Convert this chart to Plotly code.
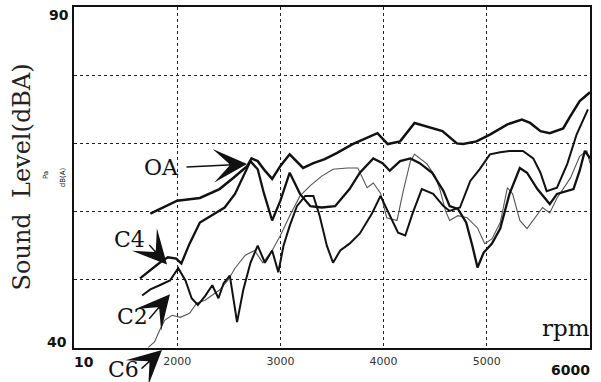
import plotly.graph_objects as go

# ---- data (rpm, dB(A)) ----
oa_rpm = [1740,2000,2220,2410,2540,2680,2720,2780,2850,2920,3000,3090,3220,3320,3430,3550,3700,3870,3940,4040,4160,4300,4420,4570,4710,4770,4900,5030,5200,5340,5420,5520,5610,5740,5810,5900,6000]
oa_db = [59.7,61.6,62.0,63.3,64.9,66.7,67.8,67.4,66.0,64.8,66.7,68.4,66.4,67.1,67.7,68.6,69.9,71.1,71.5,69.9,70.3,73.0,72.5,71.8,70.0,69.9,70.3,71.3,72.8,73.5,73.0,71.8,71.5,72.2,74.0,76.2,77.5]

c4_rpm = [1640,1740,1830,1910,1990,2040,2120,2220,2340,2460,2560,2640,2710,2780,2840,2920,3000,3090,3190,3290,3400,3530,3670,3770,3900,3990,4060,4160,4260,4350,4470,4580,4640,4720,4800,4860,4910,4970,5050,5130,5220,5320,5390,5490,5610,5680,5760,5840,5900,5950,6000]
c4_db = [50.2,51.4,52.5,53.3,53.1,52.4,55.3,58.4,59.5,60.6,62.6,65.2,67.4,66.2,62.7,58.7,61.6,65.7,62.6,60.8,60.6,60.8,63.3,65.7,67.8,67.1,66.0,67.4,67.8,67.1,65.7,63.0,60.8,60.4,58.4,55.0,51.8,54.0,55.3,57.5,62.6,66.4,65.7,63.3,61.1,62.6,63.0,63.3,66.0,68.9,67.8]

c2_rpm = [1660,1740,1830,1930,2010,2080,2140,2200,2270,2340,2400,2450,2510,2580,2640,2710,2780,2850,2920,2980,3030,3090,3160,3240,3320,3380,3450,3510,3580,3670,3770,3890,3970,4060,4140,4210,4280,4370,4480,4580,4640,4740,4840,4930,5030,5130,5220,5350,5450,5520,5580,5680,5780,5870,5980]
c2_db = [47.7,48.6,49.2,49.9,51.7,49.9,47.3,46.3,47.6,49.2,47.3,49.5,50.6,43.8,48.5,52.5,55.0,52.5,54.3,51.1,55.0,57.9,60.8,62.3,62.3,59.4,55.0,52.5,54.3,55.3,56.8,59.8,62.3,59.4,56.9,56.5,59.7,63.3,62.6,60.8,60.1,60.6,64.5,66.2,68.4,68.7,68.9,68.9,67.8,65.7,63.0,63.5,67.0,71.3,75.0]

c6_rpm = [1720,1780,1830,1880,1950,2030,2120,2190,2270,2340,2410,2490,2560,2660,2750,2830,2920,3000,3090,3190,3290,3400,3510,3650,3750,3840,3900,3970,4030,4130,4190,4260,4300,4420,4500,4550,4600,4640,4720,4810,4910,4980,5050,5130,5200,5250,5320,5390,5450,5540,5610,5680,5810,5900,5970,6000]
c6_db = [40.1,40.9,42.6,44.1,44.8,44.5,45.1,46.6,47.0,47.7,48.5,49.9,51.7,53.6,54.3,52.5,54.3,56.5,59.4,62.3,63.8,65.2,66.2,66.4,66.4,63.5,64.2,62.7,59.1,58.7,63.0,67.4,68.4,67.0,65.2,63.0,60.1,58.7,59.4,59.1,57.6,55.3,56.0,58.4,63.5,62.6,58.7,57.5,58.7,60.6,59.8,62.0,64.9,68.1,68.9,67.1]

x_ticks = [2000, 3000, 4000, 5000]
x_tick_text = ["2000", "3000", "4000", "5000"]

fig = go.Figure()
series = [
    ("C6", c6_rpm, c6_db, 1.1, "#555555"),
    ("C2", c2_rpm, c2_db, 2.0, "#111111"),
    ("C4", c4_rpm, c4_db, 2.3, "#111111"),
    ("OA", oa_rpm, oa_db, 2.5, "#111111"),
]
for name, xs, ys, w, col in series:
    fig.add_trace(go.Scatter(x=xs, y=ys, mode="lines", name=name,
                             line=dict(color=col, width=w),
                             showlegend=False, cliponaxis=False))

fig.update_layout(
    width=601, height=382,
    margin=dict(l=74, r=11, t=5, b=34),
    paper_bgcolor="white", plot_bgcolor="white",
    font=dict(family="DejaVu Sans", color="#222"),
)
fig.update_xaxes(range=[1000, 6000], tickvals=x_ticks, ticktext=x_tick_text,
                 showgrid=True, gridcolor="#222", gridwidth=1, griddash="3px,3px",
                 showline=True, linecolor="#111", linewidth=1.5, mirror=True,
                 ticks="", tickfont=dict(family="DejaVu Sans", size=11, color="#333"),
                 zeroline=False, ticklabelstandoff=2)
fig.update_yaxes(range=[40, 90], tickvals=[50, 60, 70, 80], showticklabels=False,
                 showgrid=True, gridcolor="#222", gridwidth=1, griddash="3px,3px",
                 showline=True, linecolor="#111", linewidth=1.5, mirror=True,
                 ticks="", zeroline=False)

ann = []
def txt(t, x, y, size, family="DejaVu Serif", angle=0, bold=False, color="#111"):
    ann.append(dict(text=("<b>%s</b>" % t) if bold else t, x=x, y=y, xref="paper", yref="paper",
                    showarrow=False, textangle=angle, xanchor="center", yanchor="middle",
                    font=dict(family=family, size=size, color=color)))

txt("Sound\u00a0\u00a0Level(dBA)", -0.1008, 0.503, 24, angle=-90, color="#222")
txt("Pa", -0.0543, 0.507, 7, family="DejaVu Sans", angle=-90)
txt("dB(A)", -0.0213, 0.501, 7, family="DejaVu Sans", angle=-90)
txt("90", -0.029, 0.977, 14, family="DejaVu Sans", bold=True)
txt("40", -0.033, 0.0175, 14, family="DejaVu Sans", bold=True)
txt("10", 0.019, -0.041, 14, family="DejaVu Sans", bold=True)
txt("6000", 0.963, -0.064, 14, family="DejaVu Sans", bold=True)
txt("rpm", 0.953, 0.058, 23)
txt("OA", 0.1705, 0.5306, 22)
txt("C4", 0.1085, 0.3178, 22)
txt("C2", 0.1143, 0.0933, 22)
txt("C6", 0.095, -0.064, 22)

def arrow(x, y, ax, ay):
    ann.append(dict(text="", x=x, y=y, xref="paper", yref="paper", ax=ax, ay=ay,
                    showarrow=True, arrowhead=3, arrowsize=4, arrowwidth=1.4,
                    arrowcolor="#111", standoff=0))

arrow(0.3353, 0.5394, -62, 3)
arrow(0.1802, 0.2449, -19, -21)
arrow(0.186, 0.1574, -22, 26)
arrow(0.1705, -0.0058, -22, 20)

fig.update_layout(annotations=ann)
fig.write_html("out.html")
